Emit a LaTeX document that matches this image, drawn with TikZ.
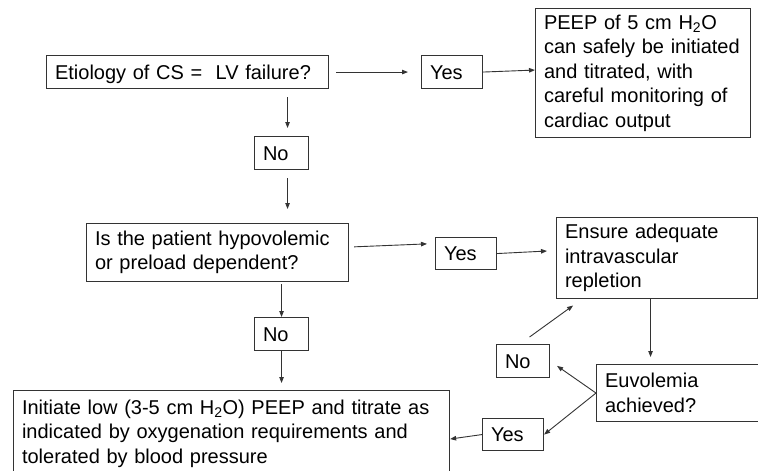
\documentclass[tikz,border=0pt]{standalone}
\usepackage{fontspec}
\setmainfont{Liberation Sans}
\usetikzlibrary{arrows.meta,calc}
\definecolor{ln}{HTML}{333333}
\begin{document}
\begin{tikzpicture}[x=1pt,y=-1pt,
  box/.style={draw=ln, line width=1.1pt, rectangle, anchor=north west, inner xsep=8.5pt, inner ysep=0pt, align=left, font=\fontsize{20}{24.5}\selectfont, text=black},
  one/.style={text height=18pt, text depth=4pt},
  arr/.style={draw=ln, line width=0.9pt, -{Triangle[length=6pt,width=4.5pt]}}]
\useasboundingbox (0,0) rectangle (758,471);
\clip (0,0) rectangle (758,471);
\fill[white] (0,0) rectangle (758,471);

\node[box, one, minimum width=282pt, minimum height=33pt, text width=265pt] (b1) at (46,55) {Etiology of CS = \ LV failure?};
\node[box, one, minimum width=61pt, minimum height=33pt, text width=44pt] (y1) at (421,55) {Yes};
\node[box, minimum width=215pt, minimum height=129pt, text width=198pt] (peep) at (535,8) {PEEP of 5 cm H\textsubscript{2}O\\can safely be initiated\\and titrated, with\\careful monitoring of\\cardiac output};
\node[box, one, minimum width=54pt, minimum height=33pt, text width=37pt] (n1) at (254,136) {No};
\node[box, minimum width=262pt, minimum height=58pt, text width=245pt] (b2) at (86,223) {Is the patient hypovolemic\\or preload dependent?};
\node[box, one, minimum width=61pt, minimum height=32pt, text width=44pt] (y2) at (435,237) {Yes};
\node[box, minimum width=201pt, minimum height=81pt, text width=184pt] (ens) at (556,217) {Ensure adequate\\intravascular\\repletion};
\node[box, one, minimum width=54pt, minimum height=33pt, text width=37pt] (n2) at (254,317) {No};
\node[box, minimum width=436pt, minimum height=86pt, text width=419pt] (init) at (13,390) {Initiate low (3-5 cm H\textsubscript{2}O) PEEP and titrate as\\indicated by oxygenation requirements and\\tolerated by blood pressure};
\node[box, minimum width=180pt, minimum height=57pt, text width=163pt] (euv) at (596,364) {Euvolemia\\achieved?};
\node[box, one, minimum width=53pt, minimum height=33pt, text width=36pt] (n3) at (496,344) {No};
\node[box, one, minimum width=61pt, minimum height=32pt, text width=44pt] (y3) at (482,418) {Yes};

\draw[arr,shorten <=7pt,shorten >=13pt] (b1.east) -- (y1.west);
\draw[arr] (y1.east) -- ([yshift=2pt]peep.west |- y1.east);
\draw[arr,shorten <=8pt,shorten >=8pt] ([xshift=6pt]n1.north |- b1.south) -- ([xshift=6pt]n1.north);
\draw[arr,shorten <=8pt,shorten >=14pt] ([xshift=6pt]n1.south) -- ([xshift=6pt]n1.south |- b2.north);
\draw[arr,shorten <=5pt,shorten >=8pt] ([yshift=5.5pt]b2.east) -- ([yshift=10pt]y2.west);
\draw[arr,shorten >=9pt] (y2.east) -- ([yshift=7.5pt]ens.west);
\draw[arr,shorten <=2pt] (n2.north |- b2.south) -- (n2.north);
\draw[arr,shorten >=7pt] (n2.south) -- (n2.south |- init.north);
\draw[arr,shorten >=7pt] ([xshift=-6.5pt]ens.south) -- ([xshift=-6.5pt]ens.south |- euv.north);
\draw[arr,shorten >=11pt] ([xshift=6.5pt,yshift=7pt]n3.north) -- ([xshift=26pt]ens.south west);
\draw[arr,shorten >=8.5pt] (euv.west) -- (n3.east);
\draw[arr] (euv.west) -- (y3.east);
\draw[arr] (y3.west) -- ([yshift=-5.5pt]init.east);
\end{tikzpicture}
\end{document}
